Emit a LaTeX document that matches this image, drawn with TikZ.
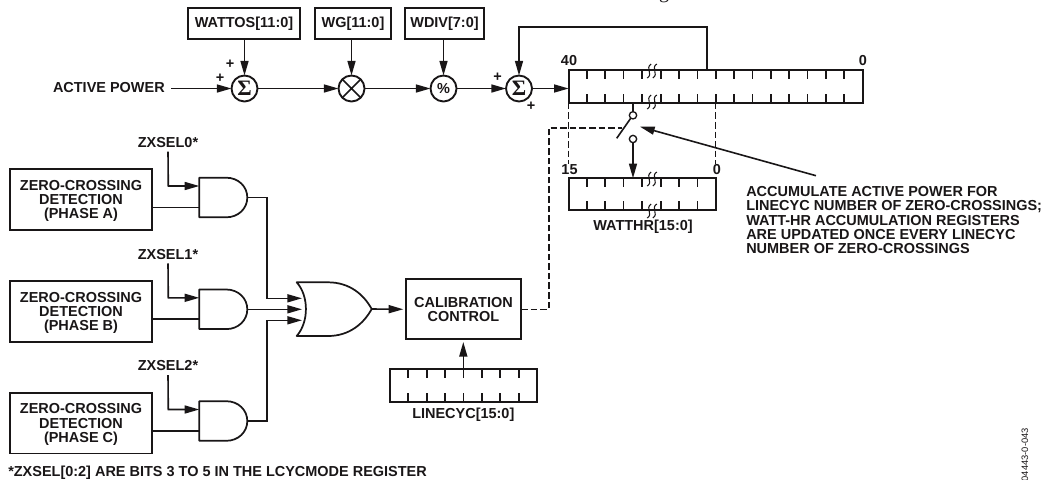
\documentclass[tikz,border=0pt]{standalone}
\usepackage{xcolor}
\usepackage{fontspec}
\setmainfont{Liberation Sans}
\newfontfamily\symbfont{Liberation Serif}
\usetikzlibrary{arrows.meta,positioning,calc}
\definecolor{inkblack}{RGB}{25,22,23}
\tikzset{
  labeltext/.style={font=\fontsize{10.85}{10.65}\selectfont\bfseries, text=inkblack, align=center, inner sep=0pt},
  leftnote/.style={labeltext, align=left, anchor=north west},
  blockbox/.style={draw=inkblack, line width=1.3pt, outer sep=0pt, inner sep=0pt, labeltext},
  regbox/.style={draw=inkblack, line width=1.3pt, outer sep=0pt, inner sep=0pt},
  opcircle/.style={draw=inkblack, circle, line width=1.4pt, minimum size=19.5pt, inner sep=0pt, outer sep=0pt, labeltext},
  gatebox/.style={minimum width=36pt, minimum height=29.7pt, inner sep=0pt, outer sep=0pt},
  wire/.style={draw=inkblack, line width=1.2pt},
  flow/.style={wire, -{Triangle[length=11pt,width=6pt]}},
  ctrlwire/.style={draw=inkblack, line width=1.2pt, dash pattern=on 4.9pt off 2.3pt},
  guide/.style={draw=inkblack, line width=.7pt, dash pattern=on 5pt off 2.2pt},
  gateline/.style={draw=inkblack, line width=1.3pt, line join=round},
  squig/.pic={
    \foreach \dx in {-2.8,2.8}
      \draw[inkblack, line width=.8pt] (\dx+2,-7) .. controls (\dx-4.5,-3) and (\dx+4.5,3) .. (\dx-2,7);
  }
}
\begin{document}
\begin{tikzpicture}[x=0.75pt,y=-0.75pt]
  \useasboundingbox (0,0) rectangle (1042,479);

  \node[font=\symbfont\fontsize{15}{15}\selectfont, text=inkblack, anchor=base] (capfrag) at (664,-1.5) {g};

  \node[blockbox, minimum width=84pt, minimum height=23.25pt] (wattos) at (244,23.5) {WATTOS[11:0]};
  \node[blockbox, minimum width=57pt, minimum height=23.25pt] (wgain) at (353,23.5) {WG[11:0]};
  \node[blockbox, minimum width=59.25pt, minimum height=23.25pt] (wdiv) at (444.5,23.5) {WDIV[7:0]};

  \node[labeltext, anchor=east] (actpow) at (165,87.5) {ACTIVE POWER};
  \coordinate (actstart) at (171,88.5);
  \node[opcircle] (suma) at (244.5,88.5) {\symbfont\fontsize{16.5}{16.5}\selectfont Σ};
  \node[opcircle] (mult) at (351.5,88.5) {};
  \node[opcircle] (divd) at (443.5,88.5) {\%};
  \node[opcircle] (sumb) at (519,88.5) {\symbfont\fontsize{16.5}{16.5}\selectfont Σ};
  \draw[gateline] (mult.45) -- (mult.225) (mult.135) -- (mult.315);

  \node[labeltext] (plusa) at (230,64) {+};
  \node[labeltext] (plusb) at (220,78) {+};
  \node[labeltext] (plusc) at (497.5,77) {+};
  \node[labeltext] (plusd) at (531,106) {+};

  \draw[flow] (actstart) -- (suma.west);
  \draw[flow] (suma.east) -- (mult.west);
  \draw[flow] (mult.east) -- (divd.west);
  \draw[flow] (divd.east) -- (sumb.west);
  \draw[flow] (wattos.south -| suma.north) -- (suma.north);
  \draw[flow] (wgain.south -| mult.north) -- (mult.north);
  \draw[flow] (wdiv.south -| divd.north) -- (divd.north);

  \node[regbox, minimum width=220.5pt, minimum height=24.5pt] (regacc) at (715.7,86.35) {};
  \node[regbox, minimum width=110.25pt, minimum height=24pt] (regout) at (642.2,194.2) {};
  \node[regbox, minimum width=110.7pt, minimum height=24.5pt] (reglin) at (463.5,385.3) {};
  \foreach \tx in {586.7,605,623.3,641.7,660.7,679,697.3,715.7,734,752.3,770.7,789,807.3,825.7,844}
    \draw[wire] (\tx,70) -- ++(0,9) (\tx,102.7) -- ++(0,-9);
  \foreach \tx in {586.7,605,623.3,641.7,660.7,679,697.3}
    \draw[wire] (\tx,178.3) -- ++(0,9) (\tx,210) -- ++(0,-9);
  \foreach \tx in {408,426.7,445,463.3,481.7,500,518.7}
    \draw[wire] (\tx,369) -- ++(0,9) (\tx,401.7) -- ++(0,-9);
  \foreach \sy in {71,102,179,211}
    \pic at (652,\sy) {squig};

  \node[labeltext] (lbhigh) at (569,61) {40};
  \node[labeltext] (lblow) at (863,61) {0};
  \node[labeltext] (lbouth) at (569.5,170) {15};
  \node[labeltext] (lboutl) at (717,170) {0};
  \node[labeltext] (lbwatt) at (643,226.7) {WATTHR[15:0]};
  \node[labeltext] (lblin) at (463.3,415) {LINECYC[15:0]};

  \draw[flow] (sumb.east) -- (regacc.west |- sumb.east);
  \coordinate (fbk) at (706.7,70);
  \coordinate (fbkturn) at (706.7,26.7);
  \draw[flow] (fbk) -- (fbkturn) -| (sumb.north);

  \coordinate (guideal) at (568.7,102.7);
  \coordinate (guidear) at (715.7,102.7);
  \coordinate (guidebl) at (568.7,164);
  \coordinate (guidebr) at (715.7,164);
  \draw[guide] (guideal) -- (guidebl);
  \draw[guide] (guidear) -- (guidebr);

  \node[draw=inkblack, circle, line width=1pt, minimum size=5.5pt, inner sep=0pt, fill=white] (swtop) at (633,115.3) {};
  \node[draw=inkblack, circle, line width=1pt, minimum size=5.5pt, inner sep=0pt, fill=white] (swbot) at (633,139) {};
  \coordinate (swtap) at (633,102.7);
  \coordinate (bladea) at (616.7,138.3);
  \coordinate (bladeb) at (630.7,118.3);
  \draw[wire] (swtap) -- (swtop);
  \draw[wire] (bladea) -- (bladeb);
  \draw[flow] (swbot) -- (swbot |- regout.north);

  \node[labeltext, leftnote, anchor=north west] (swnote) at (746,186.3) {ACCUMULATE ACTIVE POWER FOR\\LINECYC NUMBER OF ZERO-CROSSINGS;\\WATT-HR ACCUMULATION REGISTERS\\ARE UPDATED ONCE EVERY LINECYC\\NUMBER OF ZERO-CROSSINGS};
  \coordinate (notetail) at (816,175.7);
  \coordinate (notehead) at (640,126.7);
  \draw[flow] (notetail) -- (notehead);

  \foreach \nm/\gy/\txt/\sel in {a/197.5/A/0, b/309.3/B/1, c/421/C/2}{
    \node[blockbox, text depth=0pt, minimum width=106.5pt, minimum height=45.5pt] (zero\nm) at (81,\gy+2.1) {ZERO-CROSSING\\DETECTION\\(PHASE \txt)};
    \node[gatebox] (and\nm) at (223.3,\gy) {};
    \node[labeltext] (sel\nm) at (168,\gy-55.2) {ZXSEL\sel*};
    \draw[gateline] (and\nm.north west) -- ($(and\nm.north)+(3,0)$)
      .. controls ($(and\nm.north)+(15,0)$) and ($(and\nm.east)+(0,-11)$) .. (and\nm.east)
      .. controls ($(and\nm.east)+(0,11)$) and ($(and\nm.south)+(15,0)$) .. ($(and\nm.south)+(3,0)$)
      -- (and\nm.south west) -- cycle;
    \coordinate (selturn\nm) at (168.3,\gy-11.5);
    \draw[flow] ($(sel\nm.south)+(0,4)$) -- (selturn\nm) -- (selturn\nm -| and\nm.west);
    \draw[wire] (zero\nm.east |- 0,\gy+9.8) -- (and\nm.west |- 0,\gy+9.8);
  }

  \coordinate (orin) at (302,309);
  \coordinate (orback) at (296.7,282.3);
  \coordinate (orfront) at (296.7,336);
  \coordinate (ortip) at (371.7,309);
  \draw[gateline] (orback) -- (328,282.3) .. controls (350,282.3) and (364,295) .. (ortip)
    .. controls (364,323) and (350,336) .. (328,336) -- (orfront)
    .. controls (309,322) and (309,296) .. (orback) -- cycle;

  \node[blockbox, minimum width=86.25pt, minimum height=45pt] (calib) at (463.5,309.3) {CALIBRATION\\CONTROL};

  \draw[flow] (anda.east) -| (266.7,298.3) -- (orin |- 0,298.3);
  \draw[flow] (andb.east) -- (orin |- andb.east);
  \draw[flow] (andc.east) -| (266.7,320.3) -- (orin |- 0,320.3);
  \draw[flow, shorten >=2pt] (ortip) -- (calib.west);

  \coordinate (linstart) at (463.3,378);
  \draw[flow, shorten >=2pt] (linstart) -- (linstart |- calib.south);

  \coordinate (ctrlturn) at (548.7,127.7);
  \coordinate (ctrlend) at (621.7,127.7);
  \draw[ctrlwire] (calib.east) -| (ctrlturn) -- (ctrlend);

  \node[labeltext, anchor=west] (footnote) at (8,473) {*ZXSEL[0:2] ARE BITS 3 TO 5 IN THE LCYCMODE REGISTER};
  \node[font=\fontsize{7}{7}\selectfont, text=inkblack, rotate=90, anchor=east, inner sep=0pt] (docid) at (1025,428) {04443-0-043};
\end{tikzpicture}
\end{document}
